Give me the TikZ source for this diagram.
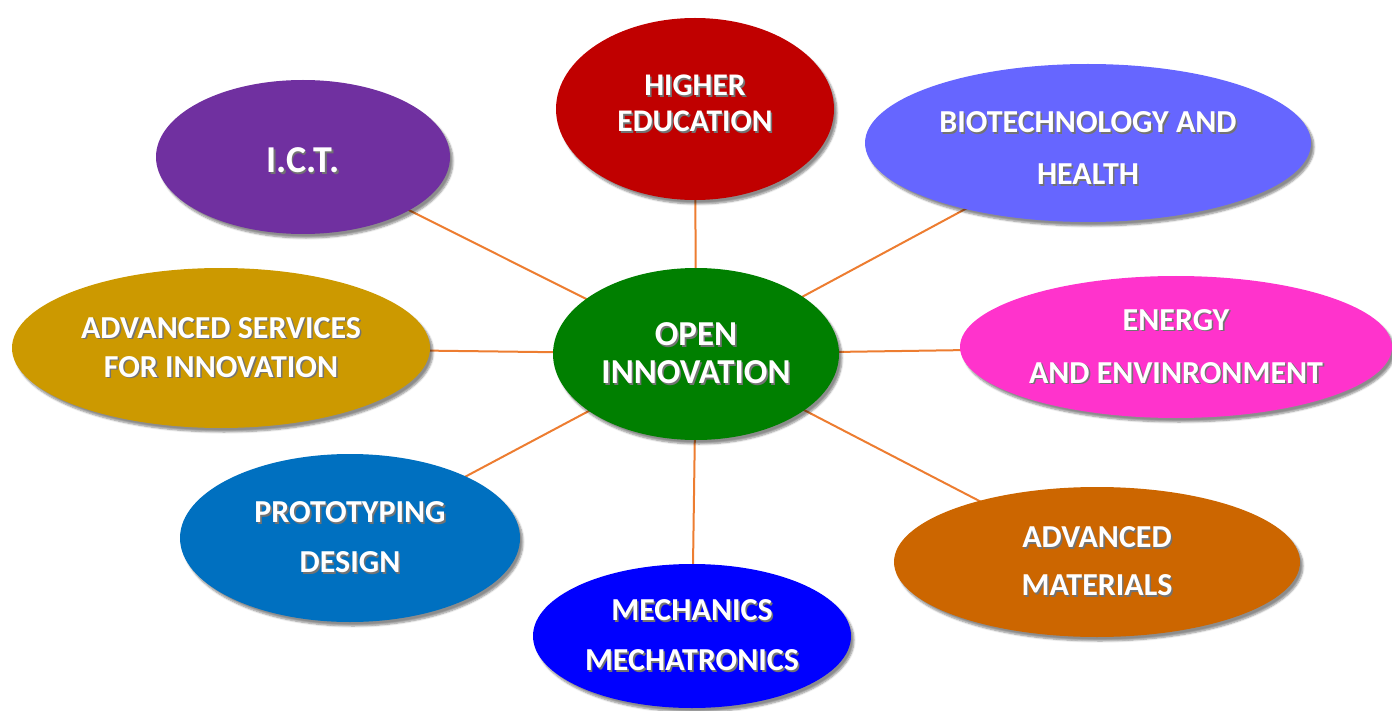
\documentclass[tikz,border=0pt]{standalone}
\usepackage{fontspec}
\setmainfont{Carlito}
\usetikzlibrary{shapes.geometric,shadows.blur}
\definecolor{cRed}{HTML}{C00000}
\definecolor{cPurple}{HTML}{7030A0}
\definecolor{cBio}{HTML}{6666FF}
\definecolor{cGold}{HTML}{CC9900}
\definecolor{cMag}{HTML}{FF33CC}
\definecolor{cGreen}{HTML}{007F00}
\definecolor{cProto}{HTML}{0070C0}
\definecolor{cMech}{HTML}{0000FF}
\definecolor{cMat}{HTML}{CC6600}
\definecolor{cLine}{HTML}{ED7D31}
\newcommand\shw[1]{\makebox[0pt][l]{\kern1.6pt\raisebox{-1.6pt}{\color{black!55}#1}}#1}
\tikzset{
  bubble/.style={ellipse, inner sep=0pt, text=white, align=center,
    font=\bfseries\fontsize{32}{36}\selectfont,
    blur shadow={shadow xshift=3pt, shadow yshift=-4pt, shadow blur steps=6, shadow opacity=45}},
  link/.style={draw=cLine, line width=2pt}
}
\begin{document}
\begin{tikzpicture}[x=1pt,y=-1pt]
\useasboundingbox (0,0) rectangle (1392,711);
\coordinate (cc) at (696,354);
\coordinate (he) at (695,109);
\coordinate (bio) at (1088,143);
\coordinate (ict) at (303,157);
\coordinate (adv) at (221,348);
\coordinate (en) at (1176,347);
\coordinate (pro) at (350,538);
\coordinate (mat) at (1097,562);
\coordinate (mec) at (692,636);
\draw[link] (cc) -- (he);
\draw[link] (cc) -- (bio);
\draw[link] (cc) -- (ict);
\draw[link] (cc) -- (adv);
\draw[link] (cc) -- (en);
\draw[link] (cc) -- (pro);
\draw[link] (cc) -- (mat);
\draw[link] (cc) -- (mec);
\node[bubble, fill=cRed, minimum width=278pt, minimum height=182pt, font=\bfseries\fontsize{31.5}{36}\selectfont] (nhe) at (he) {\shw{HIGHER}\\\shw{EDUCATION}\rule[-11pt]{0pt}{11pt}};
\node[bubble, fill=cBio, minimum width=446pt, minimum height=158pt, font=\bfseries\fontsize{32}{52}\selectfont] (nbio) at (bio) {\rule{0pt}{33pt}\shw{BIOTECHNOLOGY AND}\\\shw{HEALTH}};
\node[bubble, fill=cPurple, minimum width=294pt, minimum height=154pt, font=\bfseries\fontsize{38}{44}\selectfont] (nict) at (ict) {\rule{0pt}{33pt}\shw{I.C.T.}};
\node[bubble, fill=cGold, minimum width=418pt, minimum height=160pt, font=\bfseries\fontsize{32}{39}\selectfont] (nadv) at (adv) {\shw{ADVANCED SERVICES}\\\shw{FOR INNOVATION}};
\node[bubble, fill=cMag, minimum width=432pt, minimum height=142pt, font=\bfseries\fontsize{32}{53}\selectfont] (nen) at (en) {\shw{ENERGY}\\\shw{AND ENVINRONMENT}};
\node[bubble, fill=cProto, minimum width=340pt, minimum height=168pt, font=\bfseries\fontsize{32}{50}\selectfont] (npro) at (pro) {\shw{PROTOTYPING}\\\shw{DESIGN}};
\node[bubble, fill=cMat, minimum width=406pt, minimum height=150pt, font=\bfseries\fontsize{32}{48}\selectfont] (nmat) at (mat) {\shw{ADVANCED}\\\shw{MATERIALS}};
\node[bubble, fill=cMech, minimum width=318pt, minimum height=144pt, font=\bfseries\fontsize{32}{50}\selectfont] (nmec) at (mec) {\shw{MECHANICS}\\\shw{MECHATRONICS}};
\node[bubble, fill=cGreen, minimum width=286pt, minimum height=172pt, font=\bfseries\fontsize{35}{38}\selectfont] (ncc) at (cc) {\shw{OPEN}\\\shw{INNOVATION}};
\end{tikzpicture}
\end{document}
